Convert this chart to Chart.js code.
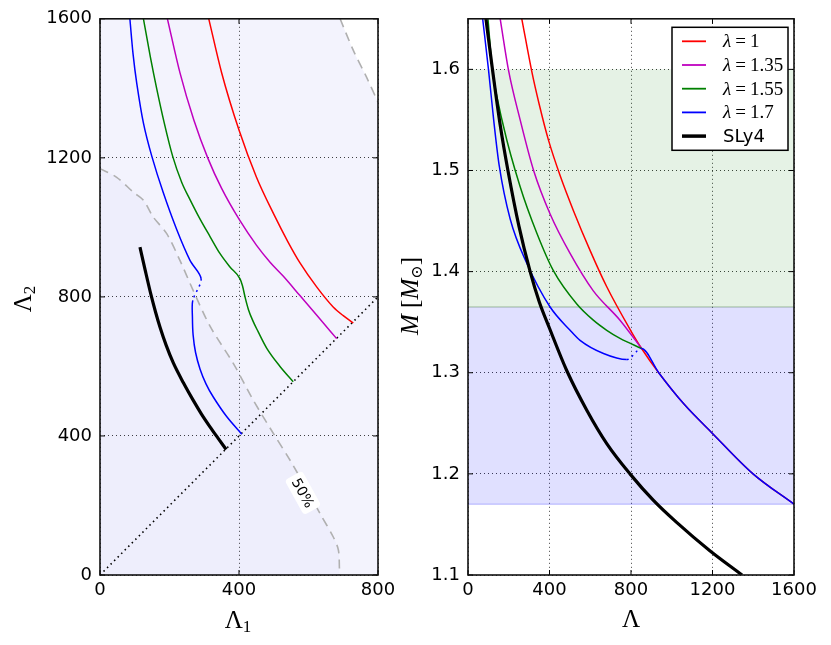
<!DOCTYPE html>
<html>
<head>
<meta charset="utf-8">
<script src="https://cdn.jsdelivr.net/npm/chart.js@4.4.0/dist/chart.umd.min.js"></script>
<style>
html, body { margin: 0; padding: 0; background: #fff; }
#wrap { position: relative; width: 831px; height: 645px; }
#c1 { position: absolute; left: 0; top: 0; }
#c2 { position: absolute; left: 395px; top: 0; }
</style>
</head>
<body>
<div id="wrap">
  <canvas id="c1" width="415" height="645"></canvas>
  <canvas id="c2" width="436" height="645"></canvas>
</div>
<script>
// left panel: Lambda_1 vs Lambda_2
var lam1_ticks = [0, 400, 800]
var lam2_ticks = [0, 400, 800, 1200, 1600]
var a_red = [[313,1600],[350,1445],[400,1280],[450,1145],[500,1038],[540,960],[576,897],[624,828],[671,771],[700,746],[729,725]]
var a_mag = [[194,1600],[230,1445],[270,1309],[310,1200],[350,1112],[401,1022],[450,949],[490,899],[527,860],[576,803],[630,740],[681,680]]
var a_green = [[125,1600],[145,1490],[163,1400],[185,1300],[209,1205],[235,1130],[259,1080],[290,1020],[317,973],[345,925],[374,886],[403,852],
  [410,832],[418,797],[427,764],[440,731],[455,700],[480,652],[518,600],[556,556]]
var a_blue = [[86,1600],[95,1500],[106,1413],[125,1300],[149,1205],[182,1100],[221,993],[259,905],[291,852],
  [267,790],[266,740],[268,690],[275,640],[288,592],[305,550],[326,512],[365,455],[408,405]]
var a_blue_gap = 8
var a_sly4 = [[115,943],[130,877],[147,805],[160,756],[173,712],[190,662],[211,610],[240,553],[268,503],[292,463],[316,427],[340,393],[363,361]]
var a_c50 = [[0,1169],[48,1144],[96,1101],[125,1078],[153,1030],[192,982],[230,905],[268,819],[317,715],[384,608],[441,503],[499,407],[547,330],[599,239],[633,177],[671,110],[686,72],[689,19],[689,0]]
var a_corner = [[691,1600],[729,1509],[767,1432],[800,1360]]
var a_diag = [[0,0],[800,800]]
var a_label = [584, 236]

// right panel: Lambda vs M
var lam_ticks = [0, 400, 800, 1200, 1600]
var m_ticks = [1.1, 1.2, 1.3, 1.4, 1.5, 1.6]
var b_tail = [[852,1.324],[936,1.300],[1060,1.269],[1200,1.240],[1399,1.200],[1600,1.170]]
var b_red = [[264,1.65],[314,1.597],[350,1.565],[395,1.530],[452,1.495],[518,1.460],[599,1.421],[681,1.385],[795,1.343]].concat(b_tail)
var b_mag = [[158,1.65],[199,1.599],[256,1.55],[322,1.5],[403,1.457],[501,1.418],[615,1.381],[746,1.352],[852,1.324]]
var b_green = [[98,1.65],[118,1.603],[175,1.543],[256,1.484],[338,1.438],[419,1.401],[534,1.368],[615,1.352],[681,1.342],[746,1.334],[852,1.324]]
var b_blue = [[72,1.65],[101,1.599],[126,1.55],[153,1.505],[207,1.452],[289,1.408],[403,1.365],[501,1.342],[550,1.332],[665,1.319],[779,1.313]].concat(b_tail)
var b_blue_gap = 10
var b_sly4 = [[88,1.65],[118,1.603],[158,1.545],[196,1.5],[250,1.445],[305,1.4],[350,1.37],[400,1.344],[485,1.302],[583,1.263],[681,1.230],[795,1.2],[909,1.174],[1024,1.152],[1187,1.124],[1345,1.1]]
var lam_range = [0, 1600]
var band_green = [1.365, 1.6]
var band_blue = [1.17, 1.365]

var legend_names = ['1', '1.35', '1.55', '1.7', 'SLy4']
var colors = ['#ff0000', '#bf00bf', '#008000', '#0000ff', '#000000']

function pts(a) { return a.map(p => ({x: p[0], y: p[1]})) }
function hline(y) { return lam_range.map(x => ({x: x, y: y})) }

function curve(data, color, width, order) {
  return {data: pts(data), borderColor: color, borderWidth: width, pointRadius: 0,
    fill: false, cubicInterpolationMode: 'monotone', order: order}
}
function gapped(ds, gap) {
  ds.segment = {borderDash: c => c.p0DataIndex === gap ? [2, 4] : undefined}
  return ds
}

function mathText(ctx, x, y, parts, rot) {
  ctx.save()
  ctx.translate(x, y)
  ctx.rotate(rot || 0)
  ctx.fillStyle = '#000'
  ctx.textBaseline = 'alphabetic'
  ctx.textAlign = 'left'
  var total = 0
  parts.forEach(p => { ctx.font = p[1]; total += ctx.measureText(p[0]).width })
  var cx = -total / 2
  parts.forEach(p => { ctx.font = p[1]; ctx.fillText(p[0], cx, p[2] || 0); cx += ctx.measureText(p[0]).width })
  ctx.restore()
}

var framePlugin = {
  id: 'frame',
  beforeDraw(chart, args, opts) {
    if (!opts.bg) return
    var a = chart.chartArea, ctx = chart.ctx
    ctx.save()
    ctx.fillStyle = opts.bg
    ctx.fillRect(a.left, a.top, a.right - a.left, a.bottom - a.top)
    ctx.restore()
  },
  afterDraw(chart, args, opts) {
    var a = chart.chartArea, ctx = chart.ctx
    var xs = chart.scales.x, ys = chart.scales.y
    ctx.save()
    ctx.strokeStyle = '#000'
    ctx.lineWidth = 1
    ctx.beginPath()
    xs.ticks.forEach(t => {
      var px = xs.getPixelForValue(t.value)
      ctx.moveTo(px, a.bottom); ctx.lineTo(px, a.bottom - 5)
      ctx.moveTo(px, a.top); ctx.lineTo(px, a.top + 5)
    })
    ys.ticks.forEach(t => {
      var py = ys.getPixelForValue(t.value)
      ctx.moveTo(a.left, py); ctx.lineTo(a.left + 5, py)
      ctx.moveTo(a.right, py); ctx.lineTo(a.right - 5, py)
    })
    ctx.stroke()
    ctx.lineWidth = 1.6
    ctx.strokeStyle = '#111'
    ctx.strokeRect(a.left, a.top, a.right - a.left, a.bottom - a.top)
    ctx.restore()
    if (opts.titles) opts.titles(ctx)
  }
}

function axes(xticks, yticks, xmax, ymin, ymax, yw, fmt) {
  var common = {
    type: 'linear',
    grid: {color: 'rgba(0,0,0,0.75)', lineWidth: 1, drawTicks: false},
    border: {display: false, dash: [1, 3]}
  }
  return {
    x: Object.assign({}, common, {
      min: 0, max: xmax,
      afterBuildTicks: s => { s.ticks = xticks.map(v => ({value: v})) },
      afterFit: s => { s.height = 70 },
      ticks: {color: '#000', padding: 5, maxRotation: 0, font: {family: 'DejaVu Sans', size: 18}, callback: v => String(v)}
    }),
    y: Object.assign({}, common, {
      min: ymin, max: ymax,
      afterBuildTicks: s => { s.ticks = yticks.map(v => ({value: v})) },
      afterFit: s => { s.width = yw },
      ticks: {color: '#000', padding: 8, font: {family: 'DejaVu Sans', size: 18}, callback: fmt}
    })
  }
}

Chart.defaults.animation = false

// ---- left chart
var labelPlugin = {
  id: 'label50',
  afterDatasetsDraw(chart) {
    var ctx = chart.ctx
    var x = chart.scales.x.getPixelForValue(a_label[0])
    var y = chart.scales.y.getPixelForValue(a_label[1])
    ctx.save()
    ctx.translate(x, y)
    ctx.rotate(61 * Math.PI / 180)
    ctx.fillStyle = '#fff'
    ctx.beginPath()
    ctx.roundRect(-20, -10, 40, 20, 4)
    ctx.fill()
    ctx.fillStyle = '#000'
    ctx.font = '14px DejaVu Sans'
    ctx.textAlign = 'center'
    ctx.textBaseline = 'middle'
    ctx.fillText('50%', 0, 1)
    ctx.restore()
  }
}

var leftBlue = curve(a_blue, colors[3], 1.5, 2)
leftBlue.cubicInterpolationMode = 'default'
leftBlue.tension = 0.3

new Chart(document.getElementById('c1'), {
  type: 'line',
  data: {
    datasets: [
      {data: pts(a_c50), borderColor: '#b0b0b0', borderWidth: 1.6, borderDash: [9, 6], pointRadius: 0,
        fill: 'start', backgroundColor: 'rgba(40,40,230,0.025)', tension: 0.3, order: 20},
      {data: pts(a_corner), borderColor: '#b0b0b0', borderWidth: 1.6, borderDash: [9, 6], pointRadius: 0,
        fill: 'end', backgroundColor: '#ffffff', tension: 0.3, order: 21},
      {data: pts(a_diag), borderColor: '#000', borderWidth: 1.6, borderDash: [1.5, 3.5], pointRadius: 0,
        fill: false, order: 10},
      curve(a_red, colors[0], 1.5, 5),
      curve(a_mag, colors[1], 1.5, 4),
      curve(a_green, colors[2], 1.5, 3),
      gapped(leftBlue, a_blue_gap),
      curve(a_sly4, colors[4], 3.2, 1)
    ]
  },
  options: {
    responsive: false,
    layout: {padding: {top: 18, right: 37, left: 0, bottom: 0}},
    scales: axes(lam1_ticks, lam2_ticks, 800, 0, 1600, 100, v => String(v)),
    plugins: {
      legend: {display: false},
      tooltip: {enabled: false},
      frame: {
        bg: '#f3f3fd',
        titles: ctx => {
          mathText(ctx, 238, 628, [['Λ', '25px Liberation Serif'], ['1', '17px Liberation Serif', 4]], 0)
          mathText(ctx, 31, 299, [['Λ', '25px Liberation Serif'], ['2', '17px Liberation Serif', 4]], -Math.PI / 2)
        }
      }
    }
  },
  plugins: [framePlugin, labelPlugin]
})

// ---- right chart
var legendPlugin = {
  id: 'boxlegend',
  afterDraw(chart) {
    var ctx = chart.ctx, a = chart.chartArea
    var bw = 116, bh = 123
    var bx = a.right - 6 - bw, by = a.top + 8.5
    ctx.save()
    ctx.fillStyle = '#fff'
    ctx.fillRect(bx, by, bw, bh)
    ctx.strokeStyle = '#000'
    ctx.lineWidth = 1.5
    ctx.strokeRect(bx, by, bw, bh)
    legend_names.forEach((name, i) => {
      var y = by + 14 + i * 23.7
      ctx.strokeStyle = colors[i]
      ctx.lineWidth = i === 4 ? 3.5 : 1.8
      ctx.beginPath()
      ctx.moveTo(bx + 10, y); ctx.lineTo(bx + 34, y)
      ctx.stroke()
      ctx.fillStyle = '#000'
      ctx.textBaseline = 'middle'
      ctx.textAlign = 'left'
      var tx = bx + 51
      if (i === 4) {
        ctx.font = '18px DejaVu Sans'
        ctx.fillText(name, tx, y + 1)
      } else {
        ctx.font = 'italic 19px Liberation Serif'
        ctx.fillText('λ', tx, y + 1)
        tx += ctx.measureText('λ').width + 4
        ctx.font = '19px Liberation Serif'
        ctx.fillText('=', tx, y + 1)
        tx += ctx.measureText('=').width + 4
        ctx.fillText(name, tx, y + 1)
      }
    })
    ctx.restore()
  }
}

new Chart(document.getElementById('c2'), {
  type: 'line',
  data: {
    datasets: [
      {data: hline(band_green[1]), borderWidth: 0, borderColor: 'rgba(0,0,0,0)', pointRadius: 0,
        fill: '+1', backgroundColor: 'rgba(0,128,0,0.1)', order: 30},
      {data: hline(band_green[0]), borderWidth: 1.5, borderColor: 'rgba(60,110,60,0.3)', pointRadius: 0,
        fill: '+1', backgroundColor: 'rgba(0,0,255,0.12)', order: 31},
      {data: hline(band_blue[0]), borderWidth: 1.5, borderColor: 'rgba(0,0,255,0.18)', pointRadius: 0,
        fill: false, order: 32},
      curve(b_red, colors[0], 1.5, 5),
      curve(b_mag, colors[1], 1.5, 4),
      curve(b_green, colors[2], 1.5, 3),
      gapped(curve(b_blue, colors[3], 1.5, 2), b_blue_gap),
      curve(b_sly4, colors[4], 3.2, 1)
    ]
  },
  options: {
    responsive: false,
    layout: {padding: {top: 18, right: 37, left: 0, bottom: 0}},
    scales: axes(lam_ticks, m_ticks, 1600, 1.1, 1.65, 73, v => v.toFixed(1)),
    plugins: {
      legend: {display: false},
      tooltip: {enabled: false},
      frame: {
        titles: ctx => {
          mathText(ctx, 236, 627, [['Λ', '25px Liberation Serif']], 0)
          mathText(ctx, 23, 296, [['M', 'italic 25px Liberation Serif'], [' [', '25px Liberation Serif'],
            ['M', 'italic 25px Liberation Serif'], ['⊙', '16px DejaVu Serif', 4], [']', '25px Liberation Serif']], -Math.PI / 2)
        }
      }
    }
  },
  plugins: [framePlugin, legendPlugin]
})
</script>
</body>
</html>
